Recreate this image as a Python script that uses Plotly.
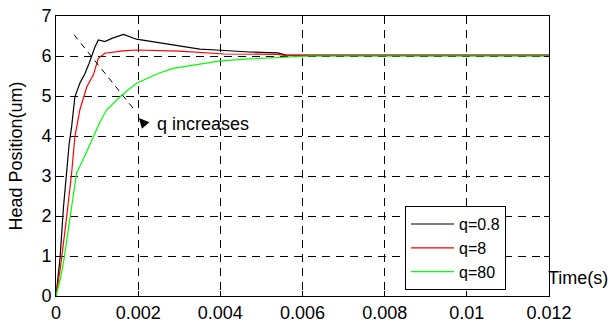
import plotly.graph_objects as go

# ---- data ----
t_q08 = [0, 0.00005, 0.0001, 0.00018, 0.00026, 0.00032, 0.00038, 0.00046, 0.00058,
         0.0007, 0.0008, 0.00095, 0.00103, 0.00119, 0.00136, 0.00164, 0.00196,
         0.00285, 0.0035, 0.0039, 0.0047, 0.0054, 0.0056, 0.012]
y_q08 = [0, 0.5, 0.97, 2.2, 3.2, 3.8, 4.23, 4.98, 5.32,
         5.55, 5.8, 6.23, 6.4, 6.36, 6.44, 6.54, 6.42,
         6.27, 6.17, 6.15, 6.1, 6.08, 6.02, 6.02]

t_q8 = [0, 0.00006, 0.00011, 0.00026, 0.00038, 0.00046, 0.00058, 0.00075, 0.00091,
        0.00103, 0.00119, 0.00163, 0.00196, 0.003, 0.0035, 0.0041, 0.0054, 0.0056, 0.012]
y_q8 = [0, 0.35, 0.73, 1.98, 3.07, 3.98, 4.65, 5.23, 5.53,
        5.94, 6.07, 6.13, 6.15, 6.12, 6.09, 6.05, 6.04, 6.01, 6.01]

t_q80 = [0, 0.0001, 0.00018, 0.00034, 0.0005, 0.0007, 0.00091, 0.00107, 0.00123,
         0.0014, 0.00156, 0.00175, 0.00196, 0.0022, 0.0025, 0.00285, 0.0035,
         0.004, 0.0047, 0.0057, 0.0062, 0.012]
y_q80 = [0, 0.4, 0.82, 1.98, 3.07, 3.5, 3.98, 4.35, 4.65,
         4.83, 4.98, 5.15, 5.32, 5.43, 5.57, 5.69, 5.8,
         5.88, 5.93, 5.98, 6.0, 6.0]

series_names = ["q=0.8", "q=8", "q=80"]
series_colors = ["#000000", "#ff0000", "#00ff00"]

x_tickvals = [0, 0.002, 0.004, 0.006, 0.008, 0.01, 0.012]
x_ticktext = ["0", "0.002", "0.004", "0.006", "0.008", "0.01", "0.012"]
y_tickvals = [0, 1, 2, 3, 4, 5, 6, 7]

FONT = "Liberation Sans, Arial, sans-serif"
FS = 18

fig = go.Figure()
for t, y, name, col in zip([t_q08, t_q8, t_q80], [y_q08, y_q8, y_q80],
                           series_names, series_colors):
    fig.add_trace(go.Scatter(x=t, y=y, mode="lines", name=name,
                             line=dict(color=col, width=1.2)))

axis_common = dict(
    showline=True, linecolor="black", linewidth=1, mirror="ticks",
    ticks="inside", ticklen=5, tickcolor="black", tickwidth=1,
    showgrid=True, gridcolor="black", gridwidth=1, griddash="8px,6px",
    zeroline=False, automargin=False,
    tickfont=dict(family=FONT, size=FS, color="black"),
)

fig.update_layout(
    width=610, height=326,
    margin=dict(l=56, r=61, t=16, b=30),
    paper_bgcolor="white", plot_bgcolor="white",
    font=dict(family=FONT, size=FS, color="black"),
    xaxis=dict(range=[0, 0.012], tickvals=x_tickvals, ticktext=x_ticktext,
               **axis_common),
    yaxis=dict(range=[0, 7], tickvals=y_tickvals,
               title=dict(text="Head Position(um)", standoff=14,
                          font=dict(family=FONT, size=FS)),
               **axis_common),
    legend=dict(x=0.708, y=0.021, xanchor="left", yanchor="bottom",
                bgcolor="white", bordercolor="black", borderwidth=1,
                font=dict(family=FONT, size=16), tracegroupgap=0,
                itemwidth=43, entrywidth=64, entrywidthmode="pixels"),
    showlegend=True,
)

# dashed indicator line
fig.add_shape(type="line", x0=0.00044, y0=6.53, x1=0.00195, y1=4.6,
              xref="x", yref="y",
              line=dict(color="black", width=1, dash="6px,5px"))
# arrow head
fig.add_annotation(x=0.00202, y=4.45, xref="x", yref="y", text="",
                   showarrow=True, ax=8, ay=9, arrowhead=2, arrowsize=2,
                   arrowwidth=1, arrowcolor="black")
fig.add_annotation(x=0.00241, y=4.3, xref="x", yref="y", text="q increases",
                   showarrow=False, xanchor="left", yanchor="middle",
                   font=dict(family=FONT, size=FS, color="black"))
fig.add_annotation(x=1.0, y=0.064, xref="paper", yref="paper", text="Time(s)",
                   showarrow=False, xanchor="left", yanchor="middle", xshift=-3,
                   font=dict(family=FONT, size=FS, color="black"))

fig.write_html("out.html", config={"displayModeBar": False},
               post_script="document.body.style.margin='0';document.body.style.overflow='hidden';")
